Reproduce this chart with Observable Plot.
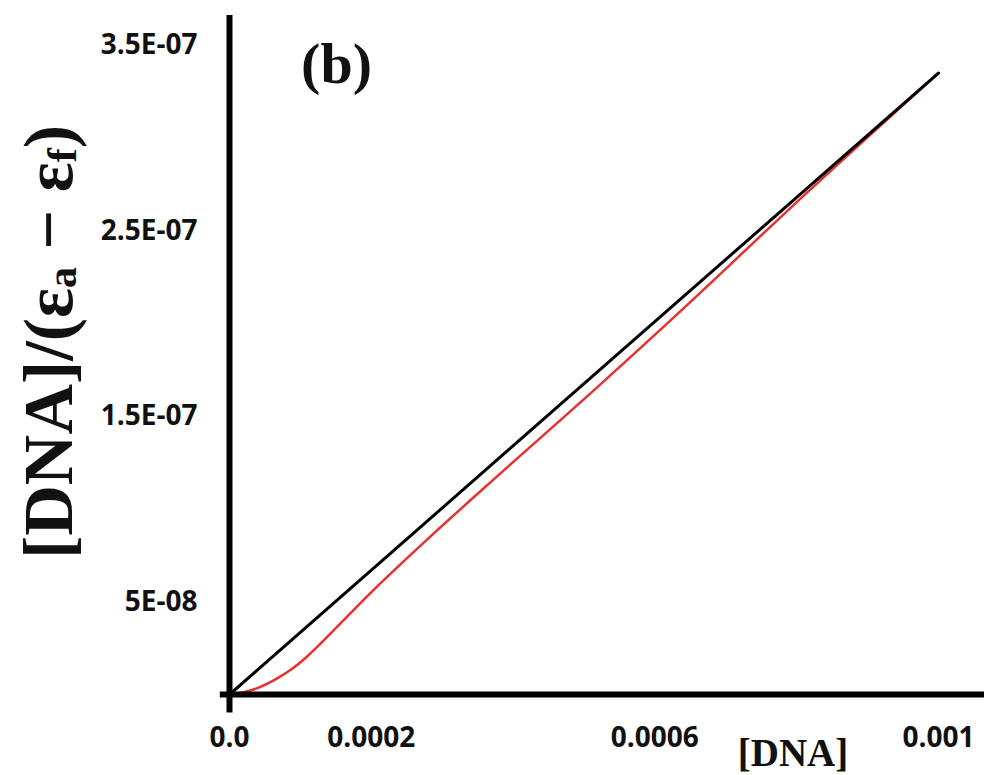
<!DOCTYPE html>
<html>
<head>
<meta charset="utf-8">
<script src="https://cdn.jsdelivr.net/npm/d3@7"></script>
<script src="https://cdn.jsdelivr.net/npm/@observablehq/plot@0.6"></script>
<style>
  html, body { margin: 0; padding: 0; background: #fff; }
  #chart { width: 984px; height: 775px; }
</style>
</head>
<body>
<div id="chart"></div>
<script>
// Linear fit (black)
const fitX = [0, 0.001];
const fitY = [0, 3.35e-7];

// Experimental curve (red)
const expX = [0, 0.0000197, 0.0000409, 0.0000691, 0.0000889, 0.0001072, 0.0001255, 0.0001537, 0.0001819, 0.0002102, 0.0002764, 0.0003822, 0.0005233, 0.0006643, 0.0007348, 0.0008054, 0.0008759, 0.001];
const expY = [0, 1.2e-9, 3.7e-9, 9.1e-9, 1.40e-8, 1.97e-8, 2.63e-8, 3.72e-8, 4.82e-8, 5.89e-8, 8.27e-8, 1.192e-7, 1.672e-7, 2.166e-7, 2.420e-7, 2.673e-7, 2.920e-7, 3.35e-7];

// Ticks
const xTicks = [0, 0.0002, 0.0006, 0.001];
const xTickLabels = ["0.0", "0.0002", "0.0006", "0.001"];
const yTicks = [5e-8, 1.5e-7, 2.5e-7, 3.5e-7];
const yTickLabels = ["5E-08", "1.5E-07", "2.5E-07", "3.5E-07"];

const xLabel = "[DNA]";
const panelLabel = "(b)";

const fitData = fitX.map((x, i) => ({x, y: fitY[i]}));
const expData = expX.map((x, i) => ({x, y: expY[i]}));
const xFmt = new Map(xTicks.map((t, i) => [t, xTickLabels[i]]));
const yFmt = new Map(yTicks.map((t, i) => [t, yTickLabels[i]]));

const xMax = 0.001065, yMax = 3.66e-7;

const chart = Plot.plot({
  width: 984,
  height: 775,
  marginLeft: 229,
  marginRight: 0,
  marginTop: 15,
  marginBottom: 81,
  style: {fontFamily: "'Open Sans', sans-serif", background: "#fff", color: "#111"},
  x: {domain: [0, xMax]},
  y: {domain: [0, yMax]},
  marks: [
    Plot.axisY({ticks: yTicks, tickFormat: d => yFmt.get(d), tickSize: 0, tickPadding: 32,
      fontSize: 28, fontWeight: "bold", label: null}),
    Plot.axisX({ticks: xTicks, tickFormat: d => xFmt.get(d), tickSize: 0, tickPadding: 33,
      fontSize: 28, fontWeight: "bold", label: null}),
    Plot.line(expData, {x: "x", y: "y", stroke: "#e8312f", strokeWidth: 2.5, curve: "monotone-x"}),
    Plot.line(fitData, {x: "x", y: "y", stroke: "#000", strokeWidth: 3}),
    Plot.ruleX([0], {y1: -1e-8, y2: yMax, stroke: "#000", strokeWidth: 6}),
    Plot.ruleY([0], {x1: -1.3e-5, x2: xMax, stroke: "#000", strokeWidth: 6}),
    Plot.text([xLabel], {frameAnchor: "bottom", dx: 186, dy: 59, lineAnchor: "middle",
      fontFamily: "'Liberation Serif', serif", fontWeight: "bold", fontSize: 39, fill: "#111"}),
    Plot.text([panelLabel], {frameAnchor: "top-left", dx: 107, dy: 49, textAnchor: "middle", lineAnchor: "middle",
      fontFamily: "'Liberation Serif', serif", fontWeight: "bold", fontSize: 58, fill: "#111"})
  ]
});
document.getElementById("chart").appendChild(chart);

// Rotated y-axis label with subscripts
const svg = d3.select(chart);
const yl = svg.append("text")
  .attr("transform", "translate(48,342) rotate(-90)")
  .attr("text-anchor", "middle")
  .attr("dominant-baseline", "central")
  .attr("font-family", "'Liberation Serif', serif")
  .attr("font-weight", "bold")
  .attr("font-size", 70)
  .attr("fill", "#111");
yl.append("tspan").text("[DNA]/(ε");
yl.append("tspan").attr("font-size", 42).attr("dy", 14).text("a");
yl.append("tspan").attr("dy", -14).text(" − ε");
yl.append("tspan").attr("font-size", 42).attr("dy", 14).text("f");
yl.append("tspan").attr("dy", -14).text(")");
</script>
</body>
</html>
